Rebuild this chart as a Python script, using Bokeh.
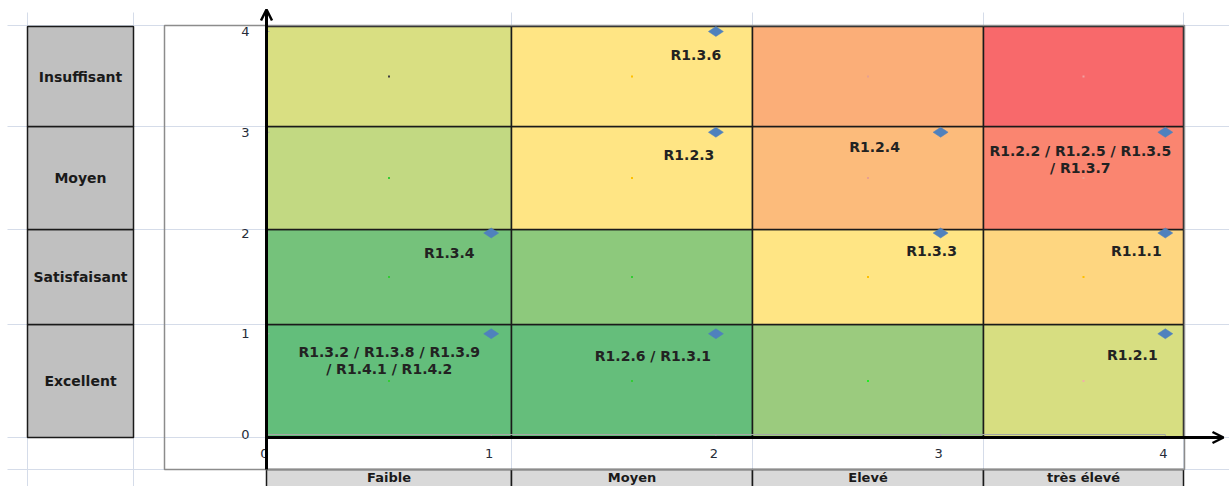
import math

from bokeh.core.properties import value
from bokeh.embed import file_html
from bokeh.models import Arrow, ColumnDataSource, OpenHead, Range1d
from bokeh.plotting import figure
from bokeh.resources import INLINE

# ---------------------------------------------------------------- data
# risks placed on the matrix: x = impact level, y = maturity level
risk_labels = [
    "R1.3.6",
    "R1.2.3",
    "R1.2.4",
    "R1.2.2 / R1.2.5 / R1.3.5\n/ R1.3.7",
    "R1.3.4",
    "R1.3.3",
    "R1.1.1",
    "R1.3.2 / R1.3.8 / R1.3.9\n/ R1.4.1 / R1.4.2",
    "R1.2.6 / R1.3.1",
    "R1.2.1",
]
impact = [2, 2, 3, 4, 1, 3, 4, 1, 2, 4]
maturity = [4, 3, 3, 3, 2, 2, 2, 1, 1, 1]

impact_levels = ["Faible", "Moyen", "Elevé", "très élevé"]
maturity_levels = ["Excellent", "Satisfaisant", "Moyen", "Insuffisant"]  # bottom -> top

x_ticks = [0, 1, 2, 3, 4]
y_ticks = [0, 1, 2, 3, 4]

# heat colours, rows from "Excellent" (bottom) to "Insuffisant" (top)
cell_colors = [
    ["#63be7b", "#65be7b", "#9bcb7e", "#d7de81"],
    ["#75c27b", "#8dc97c", "#ffe584", "#fed680"],
    ["#c2d982", "#ffe584", "#fcbb7b", "#fa8570"],
    ["#d9df82", "#ffe584", "#fbae78", "#f8696b"],
]
# colours of the small centre markers of each cell
centre_colors = [
    ["#33cc33", "#33cc33", "#22ee22", "#f0b0a8"],
    ["#33cc33", "#33cc33", "#ffc000", "#ffc000"],
    ["#33cc33", "#ffc000", "#e8a090", "#e8a090"],
    ["#404040", "#ffc000", "#e8a090", "#f0a0a0"],
]

# ---------------------------------------------------------------- layout
W, H = 1229, 486
X0, XU = 266.0, 224.7     # pixel of x=0, pixels per unit
Y0, YU = 434.0, 100.75    # pixel of y=0 (from top), pixels per unit


def dx(px):
    return (px - X0) / XU


def dy(py):
    return (Y0 - py) / YU


COL_EDGES_PX = [266, 511, 752, 983, 1183]
ROW_EDGES_PX = [437, 324, 229, 126, 26]        # bottom -> top
LABEL_COL_PX = (27, 133)
CAT_ROW_PX = (469, 495)
CHART_BOX_PX = (164, 25, 1184, 469)
SHEET_ROWS_PX = [25, 126, 229, 324, 437, 469]
SHEET_COLS_PX = [27, 133, 511, 752, 983, 1183]

# label placement relative to its marker, in pixels (right, down)
label_dx = [-20, -27, -66, -85, -42, -9, -29, -102, -63, -33]
label_dy = [23, 23, 15, 27, 20, 18, 18, 27, 22, 21]

BOLD = value("DejaVu Sans")

p = figure(
    width=W, height=H,
    x_range=Range1d(dx(0), dx(W)), y_range=Range1d(dy(H), dy(0)),
    output_backend="svg", toolbar_location=None,
    x_axis_type=None, y_axis_type=None,
    min_border=0, outline_line_color=None,
    background_fill_color="white", border_fill_color="white",
)
p.grid.visible = False

# spreadsheet grid behind everything
p.segment(x0=[dx(7)] * len(SHEET_ROWS_PX), x1=[dx(W)] * len(SHEET_ROWS_PX),
          y0=[dy(v) for v in SHEET_ROWS_PX], y1=[dy(v) for v in SHEET_ROWS_PX],
          line_color="#d5dce9", line_width=1)
p.segment(x0=[dx(v) for v in SHEET_COLS_PX], x1=[dx(v) for v in SHEET_COLS_PX],
          y0=[dy(12)] * len(SHEET_COLS_PX), y1=[dy(H)] * len(SHEET_COLS_PX),
          line_color="#d5dce9", line_width=1)

# maturity label column
row_b = [dy(ROW_EDGES_PX[i]) for i in range(4)]
row_t = [dy(ROW_EDGES_PX[i + 1]) for i in range(4)]
p.quad(left=[dx(LABEL_COL_PX[0])] * 4, right=[dx(LABEL_COL_PX[1])] * 4,
       bottom=row_b, top=row_t, fill_color="#c0c0c0",
       line_color="#1a1a1a", line_width=1.5)
p.text(x=[(dx(LABEL_COL_PX[0]) + dx(LABEL_COL_PX[1])) / 2] * 4,
       y=[(b + t) / 2 for b, t in zip(row_b, row_t)],
       text=maturity_levels, text_font=BOLD, text_font_style="bold",
       text_font_size="14px", text_color="#1a1a1a",
       text_align="center", text_baseline="middle")

# impact label row
col_l = [dx(COL_EDGES_PX[i]) for i in range(4)]
col_r = [dx(COL_EDGES_PX[i + 1]) for i in range(4)]
p.quad(left=col_l, right=col_r, bottom=[dy(CAT_ROW_PX[1])] * 4,
       top=[dy(CAT_ROW_PX[0])] * 4, fill_color="#d9d9d9",
       line_color="#1a1a1a", line_width=1.5)
p.text(x=[(l + r) / 2 for l, r in zip(col_l, col_r)], y=[dy(477)] * 4,
       text=impact_levels, text_font=BOLD, text_font_style="bold",
       text_font_size="13px", text_color="#1a1a1a",
       text_align="center", text_baseline="middle")

# heat matrix
cells = dict(left=[], right=[], bottom=[], top=[], color=[], cx=[], cy=[], dot=[])
for r in range(4):
    for c in range(4):
        cells["left"].append(col_l[c])
        cells["right"].append(col_r[c])
        cells["bottom"].append(row_b[r])
        cells["top"].append(row_t[r])
        cells["color"].append(cell_colors[r][c])
        cells["cx"].append((col_l[c] + col_r[c]) / 2)
        cells["cy"].append((row_b[r] + row_t[r]) / 2)
        cells["dot"].append(centre_colors[r][c])
cell_src = ColumnDataSource(cells)
p.quad(left="left", right="right", bottom="bottom", top="top",
       fill_color="color", line_color="#1a1a1a", line_width=1.5, source=cell_src)
p.scatter(x="cx", y="cy", marker="square", size=2, fill_color="dot",
          line_color=None, source=cell_src)

# chart frame and plot-area edges
cb = CHART_BOX_PX
p.quad(left=[dx(cb[0])], right=[dx(cb[2])], top=[dy(cb[1])], bottom=[dy(cb[3])],
       fill_color=None, line_color="#8c8c8c", line_width=1.5)
p.segment(x0=[0, x_ticks[0]], y0=[y_ticks[0], y_ticks[0]],
          x1=[x_ticks[-1], x_ticks[0]], y1=[y_ticks[0], y_ticks[-1]],
          line_color="#a6a6a6", line_width=1.2)
p.segment(x0=x_ticks, x1=x_ticks, y0=[0] * 5, y1=[-3 / YU] * 5,
          line_color="#a6a6a6", line_width=1)
p.segment(x0=[0] * 5, x1=[3 / XU] * 5, y0=y_ticks, y1=y_ticks,
          line_color="#a6a6a6", line_width=1)

# tick labels
p.text(x=[dx(249)] * len(y_ticks), y=y_ticks, text=[str(v) for v in y_ticks],
       text_font=value("DejaVu Sans"), text_font_size="13px",
       text_color="#262c38", text_align="right", text_baseline="middle")
p.text(x=x_ticks, y=[dy(453)] * len(x_ticks), text=[str(v) for v in x_ticks],
       text_font=value("DejaVu Sans"), text_font_size="13px",
       text_color="#262c38", text_align="center", text_baseline="middle",
       x_offset=-2)

# arrowed axes
p.add_layout(Arrow(end=OpenHead(size=11, line_width=2.5, line_color="black"),
                   x_start=0, y_start=dy(469), x_end=0, y_end=dy(9),
                   line_width=3, line_color="black"))
p.add_layout(Arrow(end=OpenHead(size=11, line_width=2.5, line_color="black"),
                   x_start=0, y_start=dy(437), x_end=dx(1223), y_end=dy(437),
                   line_width=3, line_color="black"))

# risks
src = ColumnDataSource(dict(x=impact, y=maturity, label=risk_labels,
                            ox=label_dx, oy=label_dy))
p.scatter(x="x", y="y", marker="diamond", angle=math.pi / 2, size=15,
          fill_color="#4f81bd", line_color="#4f81bd", line_width=0.5, source=src)
p.text(x="x", y="y", text="label", x_offset="ox", y_offset="oy", source=src,
       text_font=BOLD, text_font_style="bold", text_font_size="14px",
       text_color="#222222", text_align="center", text_baseline="middle",
       text_line_height=1.05)

open("out.html", "w").write(file_html(p, INLINE))
